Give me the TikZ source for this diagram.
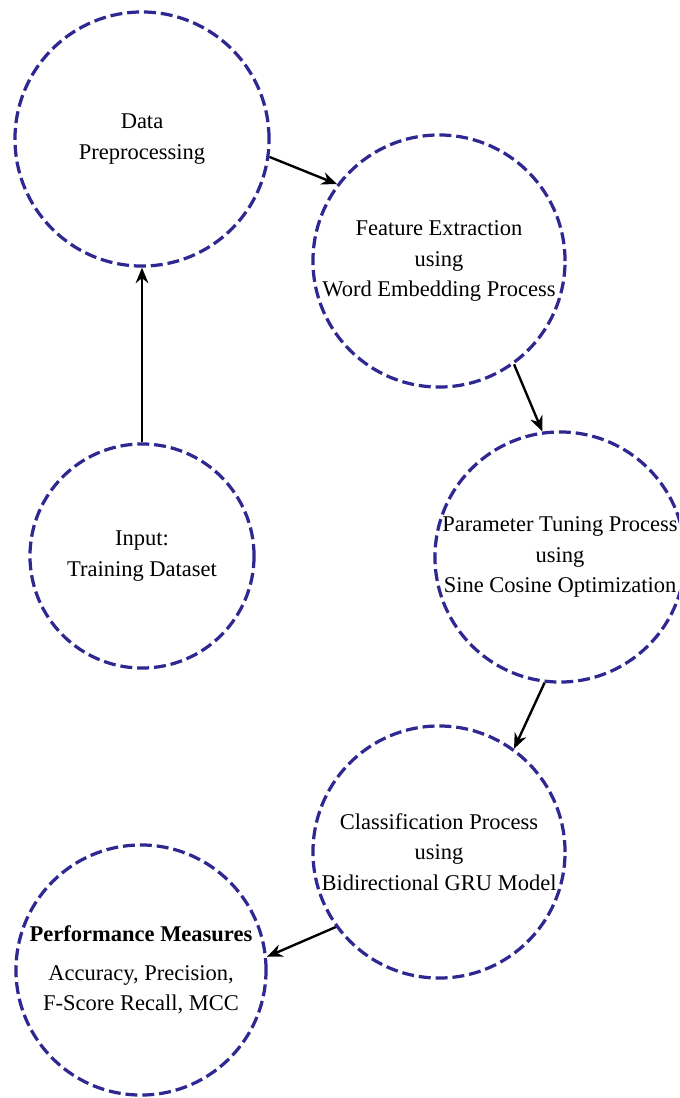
\documentclass[tikz,border=0pt]{standalone}
\usepackage{fontspec}
\setmainfont{Liberation Serif}
\usetikzlibrary{arrows.meta}

\definecolor{ringblue}{RGB}{48,40,145}

\tikzstyle{stage} = [circle, draw=ringblue, line width=2.3pt, dash pattern=on 8.5pt off 3.5pt, align=center, inner sep=0pt, font=\fontsize{16}{21.5}\selectfont]
\tikzstyle{flow} = [-{Stealth[length=11pt,width=9pt]}, line width=1.7pt, draw=black]

\begin{document}
\begin{tikzpicture}[x=0.025cm, y=-0.025cm]
    \useasboundingbox (0,0) rectangle (679,1098);
    \clip (0,0) rectangle (679,1098);

    \node (data) [stage, minimum size=6.35cm] at (142,139) {Data\\Preprocessing};
    \node (feat) [stage, minimum size=6.3cm] at (439,261) {Feature Extraction\\using\\Word Embedding Process};
    \node (input) [stage, minimum size=5.6cm] at (142,556) {Input:\\Training Dataset};
    \node (tune) [stage, minimum size=6.25cm] at (560,557) {Parameter Tuning Process\\using\\Sine Cosine Optimization};
    \node (clf) [stage, minimum size=6.3cm] at (439,852) {Classification Process\\using\\Bidirectional GRU Model};
    \node (perf) [stage, minimum size=6.25cm] at (141,970) {\textbf{Performance Measures}\\[6pt]Accuracy, Precision,\\F-Score Recall, MCC};

    \draw [flow] (input.north) -- (data.south);
    \draw [flow] (data.-8) -- (feat.143);
    \draw [flow] (feat.-54) -- (tune.98);
    \draw [flow] (tune.263) -- (clf.54);
    \draw [flow] (clf.216) -- (perf.6);
\end{tikzpicture}
\end{document}
